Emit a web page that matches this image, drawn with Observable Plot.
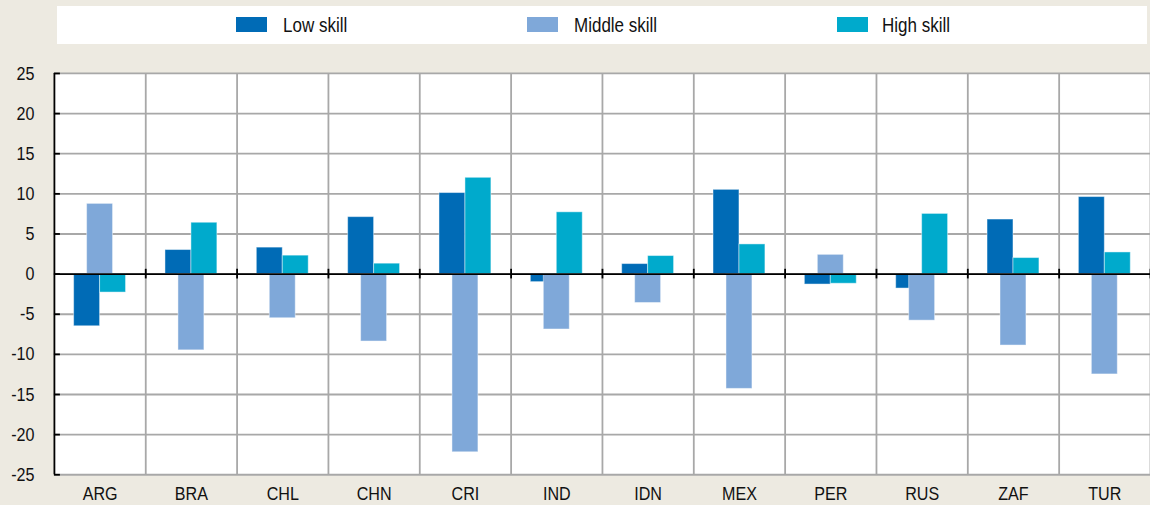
<!DOCTYPE html>
<html><head><meta charset="utf-8">
<script src="https://cdn.jsdelivr.net/npm/d3@7"></script>
<script src="https://cdn.jsdelivr.net/npm/@observablehq/plot@0.6"></script>
<style>
html,body{margin:0;padding:0;background:#EDEAE1;width:1150px;height:505px;overflow:hidden;
  font-family:"Liberation Sans",Arial,sans-serif;}
#legend{position:absolute;left:57px;top:6px;width:1090px;height:38px;background:#fff;}
.sw{position:absolute;top:11px;height:15px;}
.lab{position:absolute;top:0;line-height:38px;font-size:20px;color:#111;white-space:nowrap;transform:scaleX(0.85);transform-origin:0 50%;}
#chart{position:absolute;left:0;top:50px;}
</style></head>
<body>
<div id="legend"></div>
<div id="chart"></div>
<script>
const countries = ["ARG","BRA","CHL","CHN","CRI","IND","IDN","MEX","PER","RUS","ZAF","TUR"];
const series = ["Low skill","Middle skill","High skill"];
const colors = ["#006BB6","#7FA8D9","#00AACC"];
const lowSkill    = [-6.5, 3.0, 3.3, 7.1, 10.1, -1.0, 1.25, 10.5, -1.3, -1.8, 6.8, 9.6];
const middleSkill = [8.75, -9.5, -5.5, -8.4, -22.2, -6.9, -3.6, -14.3, 2.4, -5.8, -8.9, -12.5];
const highSkill   = [-2.3, 6.4, 2.3, 1.3, 12.0, 7.7, 2.25, 3.7, -1.2, 7.5, 2.0, 2.7];
const yTicks = [-25,-20,-15,-10,-5,0,5,10,15,20,25];

// legend (layout only)
const legendLayout = [{sw:179, w:31, t:226},{sw:470, w:31, t:517},{sw:780, w:31, t:825}];
const leg = document.getElementById("legend");
series.forEach((s,i)=>{
  const L = legendLayout[i];
  const sw = document.createElement("div");
  sw.className="sw"; sw.style.left=L.sw+"px"; sw.style.width=L.w+"px"; sw.style.background=colors[i];
  const lab = document.createElement("div");
  lab.className="lab"; lab.style.left=L.t+"px"; lab.textContent=s;
  leg.appendChild(sw); leg.appendChild(lab);
});

const values = [lowSkill, middleSkill, highSkill];
const tables = values.map((arr,si)=>countries.map((c,i)=>({country:c, value:arr[i], series:series[si]})));

const W = 1152, ML = 54, MR = 0;
const bw = (W-ML-MR)/countries.length;
const barW = 26, step = 13;
const inset = (bw-barW)/2;
const grid = "#a8a8a8";

const chart = Plot.plot({
  width: W, height: 455,
  marginLeft: ML, marginRight: MR, marginTop: 23, marginBottom: 30,
  style:{fontFamily:'"Liberation Sans",Arial,sans-serif', fontSize:"19px", color:"#111", background:"transparent", overflow:"visible"},
  x:{domain:countries, padding:0, round:false, label:null},
  y:{domain:[-25,25], label:null},
  color:{domain:series, range:colors},
  marks:[
    Plot.frame({fill:"white", stroke:null}),
    Plot.ruleY(yTicks, {stroke:grid, strokeWidth:1.8}),
    Plot.ruleX(countries, {x:d=>d, dx:bw/2, y1:-25, y2:25, stroke:grid, strokeWidth:1.8}),
    ...tables.map((t,si)=>Plot.barY(t, {x:"country", y:"value", fill:"series", dx:(si-1)*step,
        insetLeft:inset, insetRight:inset, stroke:"white", strokeOpacity:0.45, strokeWidth:1})),
    Plot.ruleY([0], {stroke:"black", strokeWidth:1.8}),
    Plot.ruleX(countries, {x:d=>d, dx:bw/2, y1:-0.6, y2:0.6, stroke:"black", strokeWidth:1.8}),
    Plot.ruleX([countries[0]], {x:d=>d, dx:-bw/2, y1:-25, y2:25, stroke:"black", strokeWidth:1.8}),
    Plot.axisY(yTicks, {tickSize:0, tickPadding:20, fontSize:19, tickFormat:d=>String(d)}),
    Plot.axisY(yTicks, {tickSize:6, dx:6, text:null, stroke:"black", strokeWidth:1.8}),
    Plot.axisX({tickSize:0, tickPadding:12, fontSize:19})
  ]
});
document.getElementById("chart").appendChild(chart);
// condensed lettering (like Arial Narrow)
chart.querySelectorAll("text").forEach(t=>{
  const L = t.getComputedTextLength();
  if (L > 0) {
    t.setAttribute("textLength", (L*0.85).toFixed(2));
    t.setAttribute("lengthAdjust", "spacingAndGlyphs");
  }
});
</script>
</body></html>
